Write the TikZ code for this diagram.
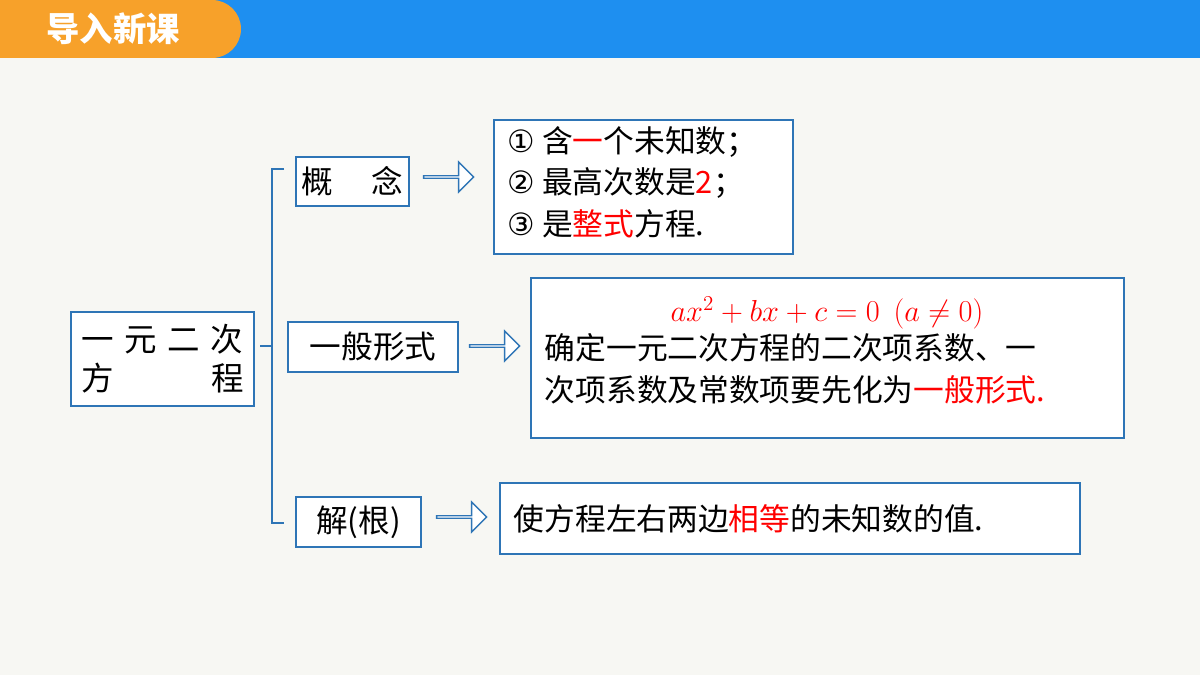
\documentclass[tikz,border=0pt]{standalone}
\usepackage{fontspec}
\setmainfont{Noto Sans CJK SC}
\newfontfamily\symfont{DejaVu Sans}
\usetikzlibrary{shapes.arrows}
\definecolor{boxblue}{HTML}{2E75B6}
\definecolor{barblue}{HTML}{1E8FF0}
\definecolor{tabor}{HTML}{F7A12A}
\definecolor{paper}{HTML}{F7F7F3}
\tikzset{
  conbox/.style={draw=boxblue, line width=1.4pt, fill=white, inner sep=0pt, font=\fontsize{18}{24}\selectfont},
  txtbox/.style={draw=boxblue, line width=1.4pt, fill=white, inner sep=0pt, font=\fontsize{17.5}{23.5}\selectfont},
  hollow/.style={single arrow, draw=boxblue, line width=0.8pt, fill=white, minimum width=17pt, single arrow head extend=4.5pt, single arrow head indent=0pt, minimum height=50*0.02cm, inner sep=0pt}
}
\begin{document}
\begin{tikzpicture}[x=0.02cm,y=-0.02cm]
  \useasboundingbox (0,0) rectangle (1200,675);
  \fill[paper] (0,0) rectangle (1200,675);
  % header
  \fill[barblue] (0,0) rectangle (1200,58);
  \fill[tabor] (0,0) rectangle (212,58);
  \fill[tabor] (212,29) circle[radius=29*0.02cm];
  \node[text=white, font=\fontsize{19}{22}\selectfont\bfseries] (title) at (113,29) {导入新课};

  % main box
  \node[conbox, minimum width=183*0.02cm, minimum height=94*0.02cm] (main) at (162.5,359) {};
  \node[font=\fontsize{18.5}{24}\selectfont, anchor=west] (l1) at (main.west) [yshift=11pt, xshift=3pt] {一\hspace{6pt}元\hspace{6pt}二\hspace{6pt}次};
  \node[font=\fontsize{18.5}{24}\selectfont, anchor=west] (l2) at (main.west) [yshift=-11pt, xshift=3pt] {方};
  \node[font=\fontsize{18.5}{24}\selectfont, anchor=east] (l3) at (main.east) [yshift=-11pt, xshift=-3pt] {程};

  % bracket
  \coordinate (bt) at (284,169);
  \coordinate (bb) at (284,523);
  \coordinate (bm) at (272,346);
  \draw[boxblue, line width=1.4pt] (bt) -- (272,169) -- (272,523) -- (bb);
  \draw[boxblue, line width=1.4pt] (main.east) ++(5,-13) -- (bm);

  % concept boxes
  \node[conbox, minimum width=113*0.02cm, minimum height=49*0.02cm] (gn) at (352.5,181.5) {概\hspace{22pt}念};
  \node[conbox, minimum width=170*0.02cm, minimum height=50*0.02cm] (yb) at (373,347) {一般形式};
  \node[conbox, minimum width=125*0.02cm, minimum height=50*0.02cm] (jg) at (358.5,522) {解(根)};

  % arrows
  \node[hollow] (a1) at (448,177) {};
  \node[hollow] (a2) at (494,346) {};
  \node[hollow] (a3) at (461,517) {};

  % text boxes
  \node[txtbox, minimum width=299*0.02cm, minimum height=134*0.02cm] (t1) at (643.5,187) {};
  \node[font=\fontsize{17.5}{23.5}\selectfont, anchor=north west, align=left] (t1txt) at (t1.north west) [xshift=5pt, yshift=-1pt]
    {{\symfont ①} 含\textcolor{red}{一}个未知数；\\{\symfont ②} 最高次数是\textcolor{red}{2}；\\{\symfont ③} 是\textcolor{red}{整式}方程.};

  \node[txtbox, minimum width=593*0.02cm, minimum height=160*0.02cm] (t2) at (827.5,358) {};
  \node[font=\fontsize{17.5}{23.5}\selectfont, text=red] (eq) at (827,313) {$ax^2+bx+c=0\ \ (a\neq 0)$};
  \node[font=\fontsize{17.5}{23.5}\selectfont, anchor=north west, align=left] (t2txt) at (t2.north west) [xshift=5pt, yshift=-29pt]
    {确定一元二次方程的二次项系数、一\\次项系数及常数项要先化为\textcolor{red}{一般形式.}};

  \node[txtbox, minimum width=580*0.02cm, minimum height=71*0.02cm] (t3) at (790,518.5) {};
  \node[font=\fontsize{17.5}{23.5}\selectfont, anchor=west] (t3txt) at (t3.west) [xshift=5pt]
    {使方程左右两边\textcolor{red}{相等}的未知数的值.};
\end{tikzpicture}
\end{document}
